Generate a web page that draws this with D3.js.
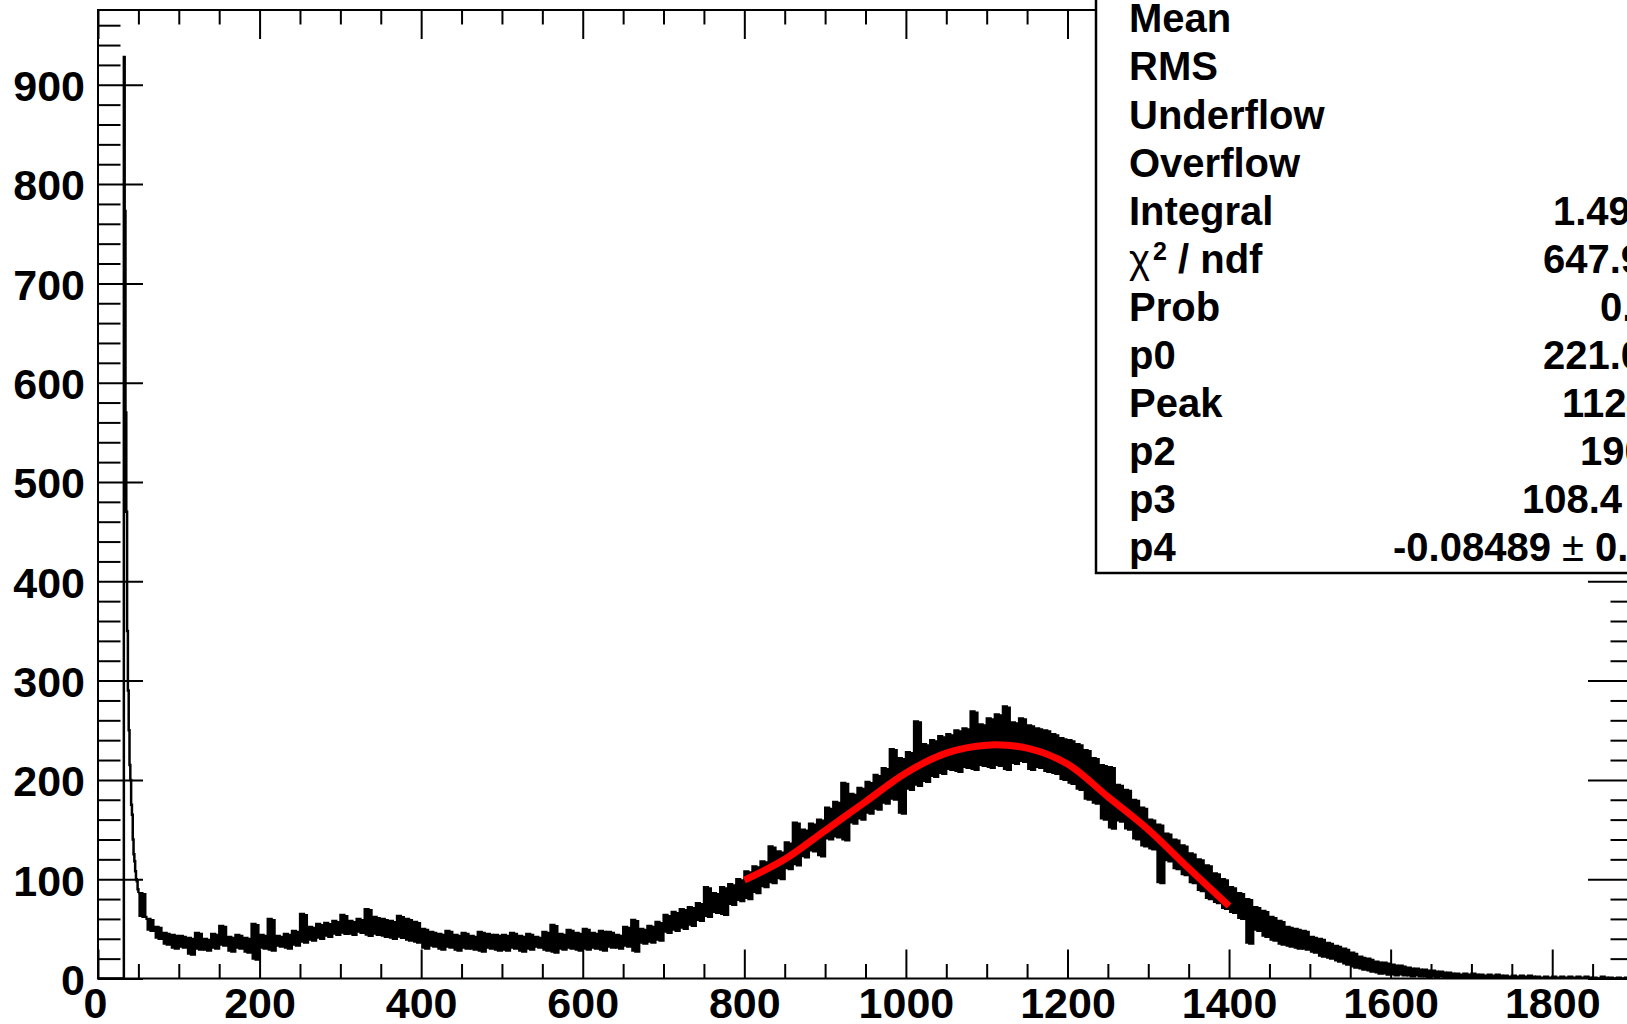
<!DOCTYPE html>
<html>
<head>
<meta charset="utf-8">
<script src="https://cdn.jsdelivr.net/npm/d3@7"></script>
<style>
  html, body { margin: 0; padding: 0; background: #fff; }
  svg { display: block; }
  text { font-family: "Liberation Sans", Arial, Helvetica, sans-serif; font-weight: bold; }
</style>
</head>
<body>
<div id="my_dataviz"></div>
<script>
// x axis: ticks every 200 labelled, minor every 50
var xMajor = [0, 200, 400, 600, 800, 1000, 1200, 1400, 1600, 1800];
var yMajor = [0, 100, 200, 300, 400, 500, 600, 700, 800, 900];

// the sharp peak near the pedestal, 1-unit bins starting at 30
var spikeStart = 30;
var spikeCounts = [0, 0, 928, 773, 570, 470, 350, 290, 250, 215,
                   200, 175, 165, 140, 125, 118, 108, 100, 98, 90];

// rest of the spectrum, 10-unit bins starting at 50: upper and lower edge of the noisy band
var bodyStart = 50, bodyStep = 10;
var bodyHi = [
  86, 60, 52, 46, 44,
  43, 41, 46, 40, 45, 53, 42, 44, 41, 55,
  44, 60, 43, 45, 48, 65, 52, 55, 56, 58,
  64, 58, 60, 70, 62, 60, 58, 63, 60, 57,
  50, 47, 45, 48, 44, 46, 43, 47, 45, 44,
  44, 46, 43, 45, 42, 47, 54, 45, 49, 46,
  50, 46, 48, 47, 44, 52, 59, 50, 53, 57,
  64, 67, 70, 72, 76, 92, 86, 92, 95, 100,
  108, 113, 118, 133, 128, 137, 157, 150, 156, 160,
  172, 178, 197, 186, 192, 198, 205, 212, 231, 222,
  228, 259, 236, 240, 244, 246, 250, 252, 269, 256,
  262, 266, 274, 258, 262, 255, 252, 250, 246, 242,
  240, 236, 230, 222, 215, 213, 195, 190, 180, 172,
  160, 155, 146, 140, 134, 126, 120, 114, 106, 100,
  92, 86, 80, 72, 68, 62, 58, 52, 50, 48,
  42, 40, 36, 33, 30, 26, 22, 20, 17, 16,
  14, 13, 11, 10, 9, 8, 7, 6, 5, 5,
  5, 4, 4, 4, 3, 3, 3, 3, 2, 2,
  2, 2, 2, 2, 2, 1, 2, 1, 1, 1
];
var bodyLo = [
  62, 48, 40, 34, 30,
  31, 24, 29, 28, 30, 33, 27, 30, 26, 19,
  30, 28, 32, 30, 33, 36, 38, 40, 42, 44,
  45, 44, 46, 43, 44, 42, 40, 41, 38, 36,
  30, 32, 29, 31, 28, 30, 29, 27, 30, 28,
  28, 30, 27, 29, 31, 28, 26, 29, 30, 28,
  29, 30, 28, 31, 30, 32, 27, 35, 36, 38,
  46, 48, 50, 53, 58, 62, 66, 64, 74, 78,
  80, 86, 92, 96, 100, 110, 114, 122, 128, 123,
  140, 142, 139, 156, 160, 166, 170, 176, 180, 166,
  190, 194, 198, 203, 206, 210, 208, 212, 210, 214,
  212, 214, 210, 216, 218, 210, 212, 208, 206, 200,
  196, 190, 180, 176, 160, 151, 158, 150, 140, 133,
  130, 96, 118, 110, 104, 96, 88, 80, 76, 70,
  66, 60, 35, 48, 42, 38, 34, 32, 30, 29,
  26, 22, 20, 17, 14, 11, 9, 7, 5, 4,
  3, 3, 2, 2, 1, 1, 1, 0, 0, 0,
  0, 0, 0, 0, 0, 0, 0, 0, 0, 0,
  0, 0, 0, 0, 0, 0, 0, 0, 0, 0
];

// fitted curve (red)
var fitX = [800, 850, 900, 950, 1000, 1050, 1100, 1150, 1200, 1250, 1300, 1350, 1400];
var fitY = [99, 120, 149, 178, 207, 227, 235, 232, 216, 183, 150, 111, 73];

// stats box
var statNames = ["Mean", "RMS", "Underflow", "Overflow", "Integral", "chi2", "Prob", "p0", "Peak", "p2", "p3", "p4"];
var statValues = ["1031", "372.4", "0", "0", "1.499e+05", "647.9 / 621", "0.2265",
                  "221.0 \u00b1 3.3", "1124 \u00b1 1.5", "190.6 \u00b1 1.1", "108.4 \u00b1 4.6", "-0.08489 \u00b1 0.00391"];
var statValueX = [1640, 1640, 1640, 1640, 1553, 1543, 1600, 1543, 1562, 1580, 1522, 1393];

var W = 1627, H = 1024;
var margin = {left: 98, top: 10, right: 1633, bottom: 978.5};

var svg = d3.select("#my_dataviz")
  .append("svg")
    .attr("width", W)
    .attr("height", H);

svg.append("rect").attr("width", W).attr("height", H).attr("fill", "#fff");

var x = d3.scaleLinear().domain([0, 1900]).range([margin.left, margin.right]);
var y = d3.scaleLinear().domain([0, 975.3]).range([margin.bottom, margin.top]);

var xMinor = d3.range(0, 1901, 50).filter(function(d) { return d % 200 !== 0; });
var yMinor = d3.range(0, 975, 20).filter(function(d) { return d % 100 !== 0; });

function styleAxis(g) {
  g.select(".domain").remove();
  g.selectAll("line").attr("stroke", "#000").attr("stroke-width", 2);
  g.selectAll("text").attr("fill", "#000").style("font-size", "43px");
}

// bottom
svg.append("g")
  .attr("transform", "translate(0," + margin.bottom + ")")
  .call(d3.axisBottom(x).tickValues(xMajor).tickSize(-29).tickSizeOuter(0).tickPadding(9).tickFormat(d3.format("d")))
  .call(styleAxis)
  .call(function(g) { g.selectAll("text").filter(function(d) { return d === 0; }).attr("dx", -3); });
svg.append("g")
  .attr("transform", "translate(0," + margin.bottom + ")")
  .call(d3.axisBottom(x).tickValues(xMinor).tickSize(-14.5).tickSizeOuter(0).tickFormat(""))
  .call(styleAxis);
// top
svg.append("g")
  .attr("transform", "translate(0," + margin.top + ")")
  .call(d3.axisTop(x).tickValues(xMajor).tickSize(-29).tickSizeOuter(0).tickFormat(""))
  .call(styleAxis);
svg.append("g")
  .attr("transform", "translate(0," + margin.top + ")")
  .call(d3.axisTop(x).tickValues(xMinor).tickSize(-14.5).tickSizeOuter(0).tickFormat(""))
  .call(styleAxis);
// left
svg.append("g")
  .attr("transform", "translate(" + margin.left + ",0)")
  .call(d3.axisLeft(y).tickValues(yMajor).tickSize(-45).tickSizeOuter(0).tickPadding(13).tickFormat(d3.format("d")))
  .call(styleAxis)
  .call(function(g) { g.selectAll("text").attr("dy", "0.37em"); });
svg.append("g")
  .attr("transform", "translate(" + margin.left + ",0)")
  .call(d3.axisLeft(y).tickValues(yMinor).tickSize(-22.5).tickSizeOuter(0).tickFormat(""))
  .call(styleAxis);
// right
svg.append("g")
  .attr("transform", "translate(" + margin.right + ",0)")
  .call(d3.axisRight(y).tickValues(yMajor).tickSize(-45).tickSizeOuter(0).tickFormat(""))
  .call(styleAxis);
svg.append("g")
  .attr("transform", "translate(" + margin.right + ",0)")
  .call(d3.axisRight(y).tickValues(yMinor).tickSize(-22.5).tickSizeOuter(0).tickFormat(""))
  .call(styleAxis);

// frame
svg.append("rect")
  .attr("x", margin.left).attr("y", margin.top)
  .attr("width", margin.right - margin.left).attr("height", margin.bottom - margin.top)
  .attr("fill", "none").attr("stroke", "#000").attr("stroke-width", 2);

svg.append("clipPath").attr("id", "plotclip")
  .append("rect")
  .attr("x", margin.left).attr("y", margin.top)
  .attr("width", margin.right - margin.left).attr("height", margin.bottom - margin.top);

// spike part as steps
var spikePts = [[0, 0]];
spikeCounts.forEach(function(c, i) { spikePts.push([spikeStart + i, c]); });
spikePts.push([bodyStart, bodyHi[0]]);

svg.append("path")
  .datum(spikePts)
  .attr("clip-path", "url(#plotclip)")
  .attr("fill", "none")
  .attr("stroke", "#000")
  .attr("stroke-width", 2.5)
  .attr("d", d3.line()
    .curve(d3.curveStepAfter)
    .x(function(d) { return x(d[0]); })
    .y(function(d) { return y(d[1]); }));

// noisy body: the band between low and high edge of each bin, filled,
// with a step line on top so the edges stay ragged
var band = bodyHi.map(function(h, i) { return {x: bodyStart + i * bodyStep, hi: h, lo: bodyLo[i]}; });
band.push({x: 1900, hi: bodyHi[bodyHi.length - 1], lo: bodyLo[bodyLo.length - 1]});

svg.append("path")
  .datum(band)
  .attr("clip-path", "url(#plotclip)")
  .attr("fill", "#000")
  .attr("d", d3.area()
    .curve(d3.curveStepAfter)
    .x(function(d) { return x(d.x); })
    .y0(function(d) { return y(d.lo); })
    .y1(function(d) { return y(d.hi); }));

var bodyPts = [];
band.forEach(function(d) {
  bodyPts.push([d.x, d.hi]);
  bodyPts.push([d.x + bodyStep / 2, d.lo]);
});

svg.append("path")
  .datum(bodyPts)
  .attr("clip-path", "url(#plotclip)")
  .attr("fill", "none")
  .attr("stroke", "#000")
  .attr("stroke-width", 2.2)
  .attr("d", d3.line()
    .curve(d3.curveStepAfter)
    .x(function(d) { return x(d[0]); })
    .y(function(d) { return y(d[1]); }));

// fit
var fitPts = fitX.map(function(v, i) { return [v, fitY[i]]; });
svg.append("path")
  .datum(fitPts)
  .attr("fill", "none")
  .attr("stroke", "#ff0000")
  .attr("stroke-width", 7)
  .attr("d", d3.line()
    .curve(d3.curveCatmullRom)
    .x(function(d) { return x(d[0]); })
    .y(function(d) { return y(d[1]); }));

// stats box
svg.append("rect")
  .attr("x", 1096).attr("y", -10)
  .attr("width", 700).attr("height", 583)
  .attr("fill", "#fff").attr("stroke", "#000").attr("stroke-width", 2.5);

var rowY = function(i) { return 32.3 + 48.1 * i; };
var stats = svg.append("g").style("font-size", "40px");

statNames.forEach(function(name, i) {
  var t = stats.append("text").attr("x", 1129).attr("y", rowY(i)).attr("fill", "#000");
  if (name === "chi2") {
    t.append("tspan").attr("font-weight", "normal").text("\u03c7");
    t.append("tspan").attr("dx", 3).attr("dy", -13).style("font-size", "25px").text("2");
    t.append("tspan").attr("dy", 13).text(" / ndf");
  } else {
    t.text(name);
  }
});

statValues.forEach(function(v, i) {
  var t = stats.append("text").attr("x", statValueX[i]).attr("y", rowY(i)).attr("fill", "#000");
  var parts = v.split("\u00b1");
  t.append("tspan").text(parts[0]);
  if (parts.length > 1) {
    t.append("tspan").attr("font-weight", "normal").text("\u00b1");
    t.append("tspan").text(parts[1]);
  }
});
</script>
</body>
</html>
